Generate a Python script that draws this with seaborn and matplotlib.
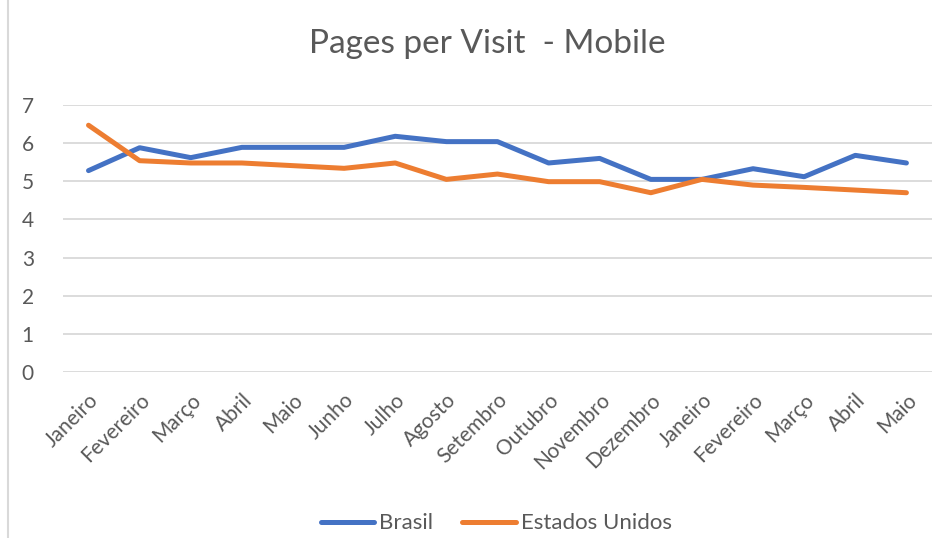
import pandas as pd
import matplotlib.pyplot as plt
import seaborn as sns

meses = ['Janeiro', 'Fevereiro', 'Março', 'Abril', 'Maio', 'Junho', 'Julho', 'Agosto',
         'Setembro', 'Outubro', 'Novembro', 'Dezembro', 'Janeiro', 'Fevereiro', 'Março',
         'Abril', 'Maio']
brasil = [5.28, 5.88, 5.62, 5.89, 5.89, 5.89, 6.18, 6.04, 6.04, 5.48, 5.60, 5.05,
          5.05, 5.33, 5.12, 5.68, 5.48]
estados_unidos = [6.47, 5.54, 5.48, 5.48, 5.41, 5.34, 5.48, 5.05, 5.19, 4.99, 4.99, 4.70,
                  5.05, 4.90, 4.84, 4.77, 4.70]

df = pd.DataFrame({
    'pos': list(range(len(meses))) * 2,
    'valor': brasil + estados_unidos,
    'serie': ['Brasil'] * len(meses) + ['Estados Unidos'] * len(meses),
})

sns.set_style('white')
plt.rcParams['font.family'] = ['Lato', 'DejaVu Sans']
cinza = '#595959'

fig = plt.figure(figsize=(9.51, 5.38), dpi=100)
ax = fig.add_axes([0.0662, 0.3086, 0.9138, 0.4962])

sns.lineplot(data=df, x='pos', y='valor', hue='serie', sort=False,
             palette={'Brasil': '#4472C4', 'Estados Unidos': '#ED7D31'},
             linewidth=3.6, ax=ax, legend=True)

ax.set_xlim(-0.5, len(meses) - 0.5)
ax.set_ylim(0, 7)
ax.set_yticks(range(0, 8))
ax.set_xticks(range(len(meses)))
ax.set_xticklabels(meses, rotation=45, ha='right', rotation_mode='anchor')
ax.tick_params(axis='both', colors=cinza, labelsize=15, length=0)
ax.tick_params(axis='y', pad=21)
ax.tick_params(axis='x', pad=13)
ax.set_xlabel('')
ax.set_ylabel('')
ax.grid(axis='y', color='#D9D9D9', linewidth=1.3)
ax.grid(axis='x', visible=False)
for s in ax.spines.values():
    s.set_visible(False)

handles, labels = ax.get_legend_handles_labels()
ax.get_legend().remove()
fig.legend(handles, labels, loc='center', bbox_to_anchor=(0.522, 0.027), ncol=2,
           frameon=False, fontsize=16, handlelength=2.4, handletextpad=0.25,
           columnspacing=1.3, labelcolor=cinza)

fig.text(0.512, 1 - 44 / 538, 'Pages per Visit  - Mobile', ha='center', va='center',
         fontsize=24, color=cinza)

fig.add_artist(plt.Line2D([7.5 / 951, 7.5 / 951], [0, 1], color='#D9D9D9', linewidth=1.5))

fig.savefig('out.png', dpi=100)
